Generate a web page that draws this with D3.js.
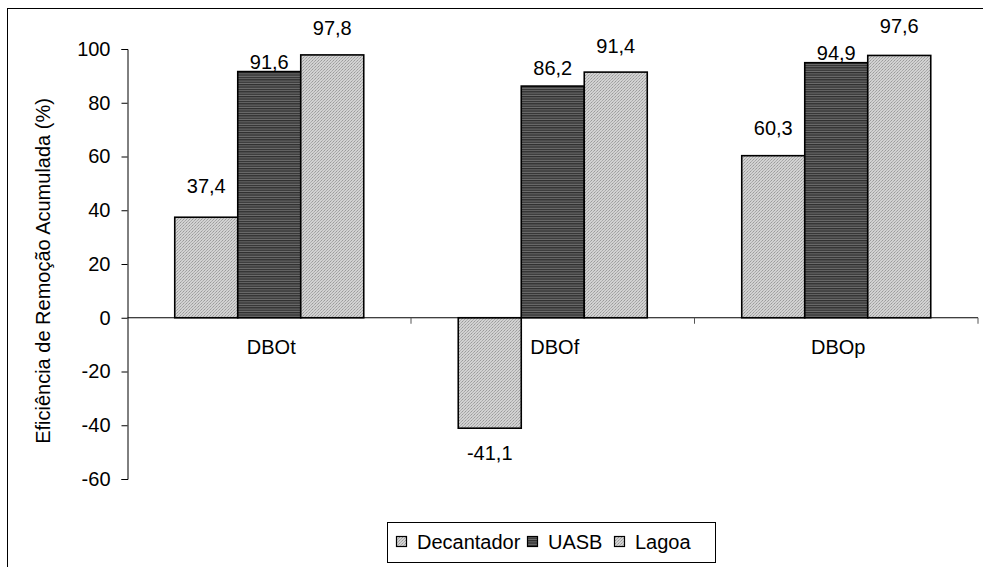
<!DOCTYPE html>
<html>
<head>
<meta charset="utf-8">
<script src="https://cdn.jsdelivr.net/npm/d3@7/dist/d3.min.js"></script>
<style>
  html, body { margin: 0; padding: 0; background: #fff; }
  svg { display: block; font-family: "Liberation Sans", Arial, sans-serif; }
</style>
</head>
<body>
<svg id="chart" width="983" height="567"></svg>
<script>
// Cumulative removal efficiency per parameter and treatment stage
const categories = ["DBOt", "DBOf", "DBOp"];
const series = ["Decantador", "UASB", "Lagoa"];
const decantador = [37.4, -41.1, 60.3];
const uasb = [91.6, 86.2, 94.9];
const lagoa = [97.8, 91.4, 97.6];
const yTicks = [100, 80, 60, 40, 20, 0, -20, -40, -60];

// pixel gap between each bar end and its value label (labels were nudged by hand)
const labelGap = [[24, 18, 21], [3, 11, 3], [20, 19, 22]];

const values = [decantador, uasb, lagoa];
const fmt = v => String(v.toFixed(1)).replace(".", ",");

const svg = d3.select("#chart");
const defs = svg.append("defs");

// fine stipple fill for Decantador / Lagoa
const dots = defs.append("pattern").attr("id", "dots")
  .attr("width", 3).attr("height", 3).attr("patternUnits", "userSpaceOnUse");
dots.append("rect").attr("width", 3).attr("height", 3).attr("fill", "#d2d2d2");
dots.append("rect").attr("x", 0).attr("y", 0).attr("width", 1).attr("height", 1).attr("fill", "#9a9a9a");
dots.append("rect").attr("x", 2).attr("y", 1).attr("width", 1).attr("height", 1).attr("fill", "#a8a8a8");
dots.append("rect").attr("x", 1).attr("y", 2).attr("width", 1).attr("height", 1).attr("fill", "#b0b0b0");

// horizontal stripes for UASB
const stripes = defs.append("pattern").attr("id", "stripes")
  .attr("width", 4).attr("height", 2.4).attr("patternUnits", "userSpaceOnUse");
stripes.append("rect").attr("width", 4).attr("height", 2.4).attr("fill", "#707070");
stripes.append("rect").attr("width", 4).attr("height", 1.3).attr("fill", "#2e2e2e");

const fills = ["url(#dots)", "url(#stripes)", "url(#dots)"];

// outer chart frame
svg.append("rect").attr("x", 7.5).attr("y", 8.5).attr("width", 1100).attr("height", 700)
  .attr("fill", "none").attr("stroke", "#000").attr("stroke-width", 1);

const x0 = d3.scaleBand().domain(categories).range([127.5, 978]).paddingInner(0).paddingOuter(0);
const x1 = d3.scaleBand().domain(series).range([0, x0.bandwidth()]).paddingInner(0).paddingOuter(0.75);
const y = d3.scaleLinear().domain([-60, 100]).range([479, 49]);

// bars
series.forEach((s, si) => {
  svg.append("g").selectAll("rect").data(categories).join("rect")
    .attr("x", c => x0(c) + x1(s))
    .attr("y", (c, ci) => y(Math.max(0, values[si][ci])))
    .attr("width", x1.bandwidth())
    .attr("height", (c, ci) => Math.abs(y(values[si][ci]) - y(0)))
    .attr("fill", fills[si])
    .attr("stroke", "#000").attr("stroke-width", 1.6);
});

// y axis
const yAxis = svg.append("g").attr("transform", "translate(127.5,0)")
  .call(d3.axisLeft(y).tickValues(yTicks).tickSize(6).tickPadding(11).tickFormat(d => d));
yAxis.select(".domain").attr("stroke", "#000").attr("stroke-width", 1);
yAxis.selectAll(".tick line").attr("stroke", "#000");
yAxis.selectAll(".tick text").attr("font-size", 20).attr("fill", "#000")
  .attr("font-family", "'Liberation Sans', Arial, sans-serif");

// x axis at zero with ticks at category boundaries
const xg = svg.append("g");
xg.append("line").attr("x1", 127.5).attr("x2", 978).attr("y1", y(0)).attr("y2", y(0))
  .attr("stroke", "#000").attr("stroke-width", 1);
xg.selectAll("line.tk").data(categories.slice(0)).join("line").attr("class", "tk")
  .attr("x1", c => x0(c) + x0.bandwidth()).attr("x2", c => x0(c) + x0.bandwidth())
  .attr("y1", y(0)).attr("y2", y(0) + 6).attr("stroke", "#555").attr("stroke-width", 1);
xg.selectAll("text").data(categories).join("text")
  .attr("x", c => x0(c) + x0.bandwidth() / 2 + 2)
  .attr("y", y(0) + 36)
  .attr("text-anchor", "middle").attr("font-size", 20).attr("fill", "#000")
  .text(c => c);

// value labels
series.forEach((s, si) => {
  svg.append("g").selectAll("text").data(categories).join("text")
    .attr("x", c => x0(c) + x1(s) + x1.bandwidth() / 2)
    .attr("y", (c, ci) => {
      const v = values[si][ci];
      return v >= 0 ? y(v) - labelGap[si][ci] : y(v) + labelGap[si][ci] + 14;
    })
    .attr("text-anchor", "middle").attr("font-size", 20).attr("fill", "#000")
    .text((c, ci) => fmt(values[si][ci]));
});

// y axis title
svg.append("text")
  .attr("transform", "translate(50,271) rotate(-90)")
  .attr("text-anchor", "middle").attr("font-size", 20).attr("fill", "#000")
  .text("Eficiência de Remoção Acumulada (%)");

// legend
const lg = svg.append("g");
lg.append("rect").attr("x", 387.5).attr("y", 522.5).attr("width", 328).attr("height", 40)
  .attr("fill", "#fff").attr("stroke", "#000").attr("stroke-width", 1);
const legendX = [396, 527, 614];
series.forEach((s, si) => {
  lg.append("rect").attr("x", legendX[si] + 0.5).attr("y", 536.5).attr("width", 10).attr("height", 10)
    .attr("fill", fills[si]).attr("stroke", "#000").attr("stroke-width", 1.2);
  lg.append("text").attr("x", legendX[si] + 21).attr("y", 549)
    .attr("font-size", 20).attr("fill", "#000").text(s);
});
</script>
</body>
</html>
